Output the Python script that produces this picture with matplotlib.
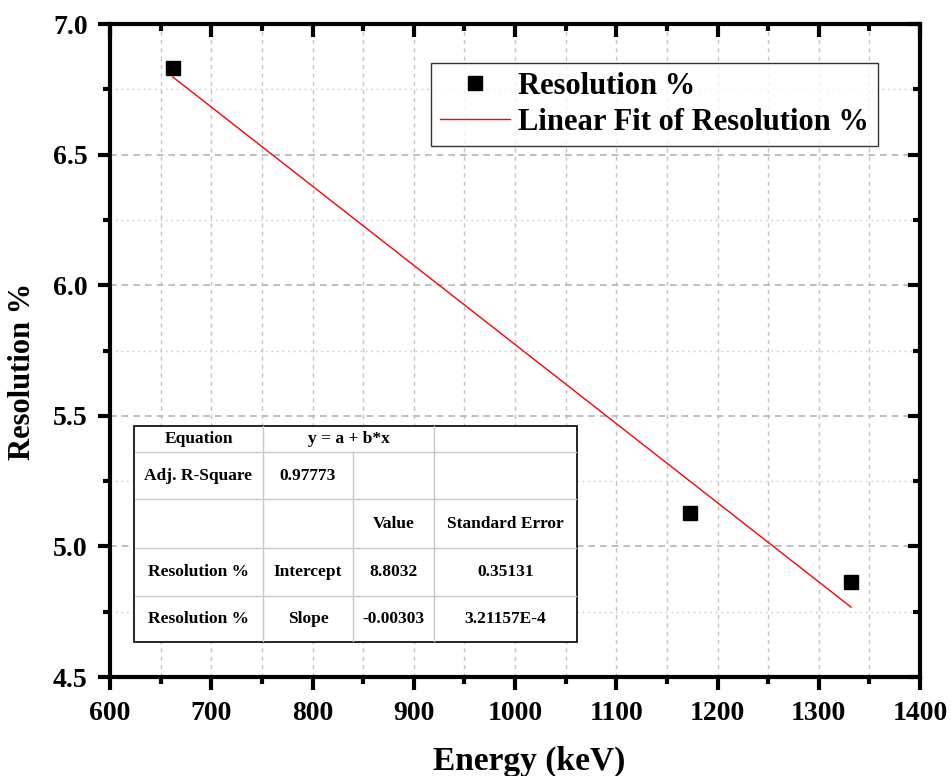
import matplotlib.pyplot as plt
from matplotlib.ticker import MultipleLocator
from matplotlib.lines import Line2D

# data
energy = [662, 1173, 1332]
resolution = [6.832, 5.128, 4.864]

# fit results (as reported in the table)
fit_intercept = 8.8032
fit_slope = -0.00303
fit_x = [662, 1332]

table_rows = [
    ["Equation", "y = a + b*x", "", ""],
    ["Adj. R-Square", "0.97773", "", ""],
    ["", "", "Value", "Standard Error"],
    ["Resolution %", "Intercept", "8.8032", "0.35131"],
    ["Resolution %", "Slope", "-0.00303", "3.21157E-4"],
]

plt.rcParams['font.family'] = ['Liberation Serif', 'DejaVu Serif']
plt.rcParams['font.weight'] = 'bold'

W, H = 951, 776
fig = plt.figure(figsize=(W / 100, H / 100), dpi=100)

def fx(px):
    return px / W

def fy(py):
    return 1 - py / H

# axes box in pixels: left 110, right 920, top 24, bottom 677
ax = fig.add_axes([fx(110), fy(677), 810 / W, 653 / H])

ax.set_xlim(600, 1400)
ax.set_ylim(4.5, 7.0)
ax.xaxis.set_major_locator(MultipleLocator(100))
ax.xaxis.set_minor_locator(MultipleLocator(50))
ax.yaxis.set_major_locator(MultipleLocator(0.5))
ax.yaxis.set_minor_locator(MultipleLocator(0.25))

ax.grid(which='major', axis='y', color='#b4b4b4', linestyle=(0, (4, 3)), linewidth=1.2)
ax.grid(which='minor', axis='y', color='#c4c4c4', linestyle=(0, (1, 3)), linewidth=1.0)
ax.grid(which='both', axis='x', color='#c4c4c4', linestyle=(0, (3, 3)), linewidth=1.0)
ax.set_axisbelow(True)

for s in ax.spines.values():
    s.set_linewidth(3)

ax.tick_params(which='both', direction='out', width=3, labelsize=20)
ax.tick_params(axis='x', which='both', pad=8)
ax.tick_params(axis='y', which='both', pad=7)
ax.tick_params(which='major', length=9)
ax.tick_params(which='minor', length=5)
ax.tick_params(which='both', top=True, right=True)
# mirror ticks on top/right go inward
for t in ax.xaxis.get_major_ticks() + ax.xaxis.get_minor_ticks():
    t.tick2line.set_marker(3)
for t in ax.yaxis.get_major_ticks() + ax.yaxis.get_minor_ticks():
    t.tick2line.set_marker(0)
for lab in ax.get_xticklabels() + ax.get_yticklabels():
    lab.set_fontweight('bold')

ax.plot(energy, resolution, 's', color='black', ms=9.5, label='Resolution %', zorder=4)
fit_y = [fit_intercept + fit_slope * x for x in fit_x]
ax.plot(fit_x, fit_y, '-', color='red', lw=1.0, label='Linear Fit of Resolution %', zorder=3)

fig.text(fx(529), fy(770), 'Energy (keV)', fontsize=24, fontweight='bold',
         ha='center', va='baseline')
fig.text(fx(23), fy(371), 'Resolution %', fontsize=22, fontweight='bold',
         ha='center', va='center', rotation=90)

leg = ax.legend(loc='upper right', bbox_to_anchor=((878 - 110) / 810, 1 - (63 - 24) / 653),
                frameon=True, fancybox=False, edgecolor='black', borderaxespad=0,
                handlelength=2.3, handletextpad=0.25, borderpad=0.3, labelspacing=0.22,
                prop={'weight': 'bold', 'size': 22})
leg.get_frame().set_linewidth(1.0)

# table drawn in pixel coords converted to figure coords
cols = [134, 263, 353, 434, 577]
rows = [426, 452, 499, 548, 596, 642]

bg = plt.Rectangle((fx(cols[0]), fy(rows[-1])), fx(cols[-1]) - fx(cols[0]), fy(rows[0]) - fy(rows[-1]),
                   transform=fig.transFigure, facecolor='white', edgecolor='black', lw=1.2, zorder=5)
fig.patches.append(bg)

gray = '#c8c8c8'
for r in rows[1:-1]:
    fig.add_artist(Line2D([fx(cols[0] + 1), fx(cols[-1] - 1)], [fy(r), fy(r)], color=gray, lw=1.0, zorder=6))
for i, c in enumerate(cols[1:-1], start=1):
    top = rows[1] if i == 2 else rows[0]
    fig.add_artist(Line2D([fx(c), fx(c)], [fy(top), fy(rows[-1] - 1)], color=gray, lw=1.0, zorder=6))

for ri, row in enumerate(table_rows):
    yc = (rows[ri] + rows[ri + 1]) / 2
    for ci, txt in enumerate(row):
        if not txt:
            continue
        if ri == 0 and ci == 1:
            xc = (cols[1] + cols[3]) / 2
        else:
            xc = (cols[ci] + cols[ci + 1]) / 2
        fig.text(fx(xc), fy(yc), txt, ha='center', va='center', fontsize=12.5,
                 fontweight='bold', zorder=7)

fig.savefig('out.png', dpi=100)
